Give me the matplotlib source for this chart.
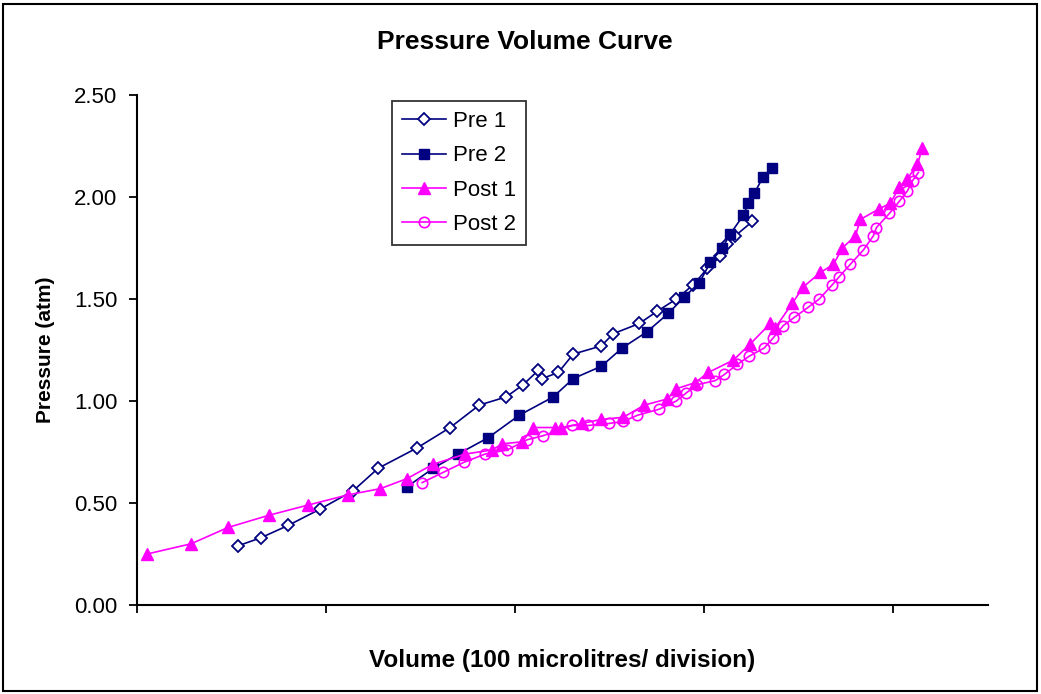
import matplotlib
matplotlib.use("Agg")
import matplotlib.pyplot as plt
from matplotlib.patches import Rectangle

plt.rcParams['font.family'] = ['Liberation Sans', 'DejaVu Sans']

# volume in divisions (ticks every division), pressure in atm
pre1_x = [0.534, 0.656, 0.799, 0.968, 1.143, 1.275, 1.481, 1.656, 1.810, 1.952,
          2.042, 2.122, 2.143, 2.228, 2.307, 2.455, 2.519, 2.656, 2.751, 2.852,
          2.942, 3.016, 3.085, 3.122, 3.164, 3.254]
pre1_y = [0.29, 0.33, 0.39, 0.47, 0.56, 0.67, 0.77, 0.87, 0.98, 1.02,
          1.08, 1.15, 1.11, 1.14, 1.23, 1.27, 1.33, 1.38, 1.44, 1.50,
          1.57, 1.65, 1.71, 1.77, 1.81, 1.88]

pre2_x = [1.429, 1.566, 1.698, 1.857, 2.021, 2.201, 2.307, 2.455, 2.566, 2.698,
          2.810, 2.894, 2.974, 3.032, 3.095, 3.138, 3.206, 3.233, 3.265, 3.312,
          3.360]
pre2_y = [0.58, 0.67, 0.74, 0.82, 0.93, 1.02, 1.11, 1.17, 1.26, 1.34,
          1.43, 1.51, 1.58, 1.68, 1.75, 1.82, 1.91, 1.97, 2.02, 2.10,
          2.14]

post1_x = [0.053, 0.286, 0.481, 0.698, 0.905, 1.116, 1.286, 1.429, 1.566, 1.735,
           1.878, 1.931, 2.037, 2.095, 2.212, 2.243, 2.354, 2.455, 2.571, 2.683,
           2.804, 2.852, 2.952, 3.021, 3.153, 3.243, 3.349, 3.376, 3.466, 3.524,
           3.614, 3.683, 3.730, 3.799, 3.825, 3.921, 3.984, 4.032, 4.074, 4.127,
           4.153]
post1_y = [0.25, 0.30, 0.38, 0.44, 0.49, 0.54, 0.57, 0.62, 0.69, 0.74,
           0.76, 0.79, 0.80, 0.87, 0.87, 0.87, 0.89, 0.91, 0.92, 0.98,
           1.01, 1.06, 1.09, 1.14, 1.20, 1.28, 1.38, 1.36, 1.48, 1.56,
           1.63, 1.67, 1.75, 1.81, 1.89, 1.94, 1.97, 2.05, 2.09, 2.16,
           2.24]

post2_x = [1.508, 1.619, 1.730, 1.841, 1.958, 2.063, 2.148, 2.302, 2.386, 2.497,
           2.571, 2.646, 2.762, 2.852, 2.905, 2.963, 3.058, 3.106, 3.175, 3.238,
           3.317, 3.365, 3.418, 3.476, 3.550, 3.608, 3.677, 3.714, 3.772, 3.841,
           3.894, 3.910, 3.979, 4.032, 4.074, 4.101, 4.132]
post2_y = [0.60, 0.65, 0.70, 0.74, 0.76, 0.81, 0.83, 0.88, 0.88, 0.89,
           0.90, 0.93, 0.96, 1.00, 1.04, 1.08, 1.10, 1.13, 1.18, 1.22,
           1.26, 1.31, 1.37, 1.41, 1.46, 1.50, 1.57, 1.61, 1.67, 1.74,
           1.81, 1.85, 1.92, 1.98, 2.03, 2.08, 2.12]

x_ticks = [0, 1, 2, 3, 4]
y_ticks = [0.0, 0.5, 1.0, 1.5, 2.0, 2.5]

NAVY = '#000080'
MAGENTA = '#FF00FF'

fig = plt.figure(figsize=(10.41, 6.94), dpi=100)
ax = fig.add_axes([137 / 1041, 89 / 694, 851 / 1041, 510 / 694])

ax.plot(pre1_x, pre1_y, color=NAVY, lw=1.2, marker='D', ms=6.5,
        mfc='white', mec=NAVY, mew=1.3, label='Pre 1')
ax.plot(pre2_x, pre2_y, color=NAVY, lw=1.2, marker='s', ms=7.5,
        mfc=NAVY, mec=NAVY, label='Pre 2')
ax.plot(post1_x, post1_y, color=MAGENTA, lw=1.2, marker='^', ms=9,
        mfc=MAGENTA, mec=MAGENTA, label='Post 1')
ax.plot(post2_x, post2_y, color=MAGENTA, lw=1.2, marker='o', ms=7.5,
        mfc='none', mec=MAGENTA, mew=1.2, label='Post 2')

ax.set_xlim(0, 4.5)
ax.set_ylim(0, 2.5)
ax.set_xticks(x_ticks)
ax.set_xticklabels([])
ax.set_yticks(y_ticks)
ax.set_yticklabels([f'{v:.2f}' for v in y_ticks], fontsize=16)
ax.tick_params(direction='out', length=6, width=1.3, color='black', pad=8)
for s in ['top', 'right']:
    ax.spines[s].set_visible(False)
for s in ['left', 'bottom']:
    ax.spines[s].set_linewidth(1.5)

ax.set_xlabel('Volume (100 microlitres/ division)', fontsize=17.5,
              fontweight='bold', labelpad=18)
ax.set_ylabel('Pressure (atm)', fontsize=15, fontweight='bold', labelpad=14)
fig.text(525 / 1041, 1 - 42 / 694, 'Pressure Volume Curve', ha='center',
         va='center', fontsize=19, fontweight='bold')

leg = ax.legend(loc='upper left', bbox_to_anchor=((392 - 137) / 851, (605 - 101) / 510),
                fontsize=16, frameon=True, fancybox=False, edgecolor='black',
                handlelength=2.0, handletextpad=0.3, labelspacing=0.6,
                borderpad=0.45, borderaxespad=0)
leg.get_frame().set_linewidth(1.3)

fig.patches.append(Rectangle((3 / 1041, 3 / 694), 1034 / 1041, 687 / 694,
                             transform=fig.transFigure, fill=False,
                             edgecolor='black', lw=1.5))

fig.savefig('out.png', dpi=100, facecolor='white')
